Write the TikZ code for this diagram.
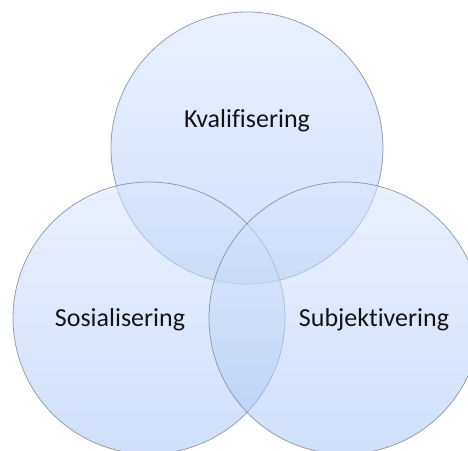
\documentclass[tikz,border=0pt]{standalone}
\usepackage{fontspec}
\setmainfont{Carlito}[Ligatures=NoCommon]
\definecolor{ctop}{RGB}{217,230,251}
\definecolor{cbot}{RGB}{170,196,246}
\definecolor{cedge}{RGB}{140,150,165}
\definecolor{ctext}{RGB}{20,20,20}
\begin{document}
\begin{tikzpicture}[x=1pt,y=1pt,
  venn/.style={circle, minimum size=272pt, inner sep=0pt, top color=ctop, bottom color=cbot, fill opacity=0.55, draw=cedge, draw opacity=0.9, line width=0.8pt},
  lbl/.style={anchor=base, font=\fontsize{26}{30}\selectfont, text=ctext}]
\useasboundingbox (0,0) rectangle (468,450);
\clip (0,0) rectangle (468,450);
\node[venn] (top) at (247,302) {};
\node[venn] (left) at (149,132) {};
\node[venn] (right) at (345,132) {};
\node[lbl] (tK) at (247,322) {Kvalifisering};
\node[lbl] (tS) at (120,124) {Sosialisering};
\node[lbl] (tB) at (374,124) {Subjektivering};
\end{tikzpicture}
\end{document}
